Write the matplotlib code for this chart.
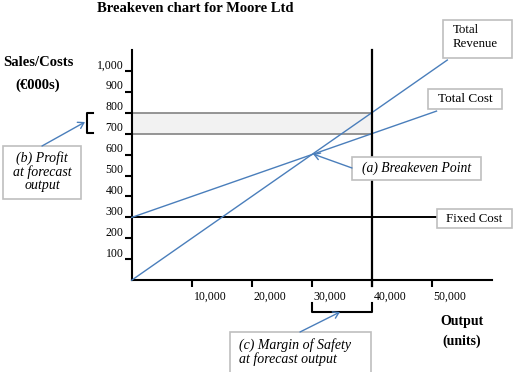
import matplotlib
matplotlib.use("Agg")
import matplotlib.pyplot as plt
from matplotlib.patches import Rectangle, FancyArrowPatch
from matplotlib.lines import Line2D
from matplotlib.transforms import ScaledTranslation

# ---- data (output in units, sales/costs in €000s) ----
revenue_x = [0, 52600]
revenue_y = [0, 1052]
cost_x = [0, 50800]
cost_y = [300, 808]
fixed_x = [0, 50700]
fixed_y = [300, 300]
forecast_output = 40000
breakeven_output = 30000
profit_band = [700, 800]
x_ticks = [10000, 20000, 30000, 40000, 50000]
x_ticklabels = ["10,000", "20,000", "30,000", "40,000", "50,000"]
y_ticks = [100, 200, 300, 400, 500, 600, 700, 800, 900, 1000]
y_ticklabels = ["100", "200", "300", "400", "500", "600", "700", "800", "900", "1,000"]

W, H = 523, 372
SERIF = ["Liberation Serif", "DejaVu Serif"]
BLUE = "#4a7ebb"
fig = plt.figure(figsize=(W / 100, H / 100), dpi=100)


def P(x, y):
    return (x / W, 1 - y / H)


ax = fig.add_axes([131.7 / W, 1 - 280.2 / H, 360 / W, 230.2 / H])
ax.set_xlim(0, 60000)
ax.set_ylim(0, 1100)
for s in ["top", "right"]:
    ax.spines[s].set_visible(False)
for s in ["left", "bottom"]:
    ax.spines[s].set_linewidth(1.5)
    ax.spines[s].set_color("black")
ax.tick_params(direction="out", length=5, width=1.5, colors="black")
ax.set_xticks(x_ticks)
ax.set_xticklabels(x_ticklabels, fontfamily=SERIF, fontsize=8.5, ha="left")
ax.set_yticks(y_ticks)
ax.set_yticklabels(y_ticklabels, fontfamily=SERIF, fontsize=8.5)
ax.tick_params(axis="x", pad=2.5)
ax.tick_params(axis="y", pad=1)
for lab in ax.get_yticklabels():
    lab.set_transform(lab.get_transform() + ScaledTranslation(0, 7 / 100, fig.dpi_scale_trans))
for lab in ax.get_xticklabels():
    lab.set_transform(lab.get_transform() + ScaledTranslation(2 / 100, 0, fig.dpi_scale_trans))

# profit band
ax.fill_between([0, forecast_output], profit_band[0], profit_band[1],
                facecolor="#f2f2f2", edgecolor="none", zorder=1)
for v in profit_band:
    ax.plot([0, forecast_output], [v, v], color="#8c8c8c", lw=1.3, zorder=2)

# lines
ax.plot(fixed_x, fixed_y, color="black", lw=1.4, zorder=3, clip_on=False)
ax.plot(revenue_x, revenue_y, color=BLUE, lw=1.0, zorder=4, clip_on=False)
ax.plot(cost_x, cost_y, color=BLUE, lw=1.0, zorder=4, clip_on=False)
ax.plot([forecast_output, forecast_output], [-28, 1100], color="black", lw=1.6,
        zorder=5, clip_on=False)

# margin of safety bracket below axis
ax.plot([breakeven_output, breakeven_output, forecast_output, forecast_output],
        [-110, -152, -152, -110], color="black", lw=1.5, clip_on=False)

# left bracket for profit
fig.add_artist(Line2D([93 / W, 87 / W, 87 / W, 93 / W],
                      [1 - 113 / H, 1 - 113 / H, 1 - 133 / H, 1 - 133 / H],
                      color="black", lw=1.5, transform=fig.transFigure))


def box(x0, y0, x1, y1):
    fig.add_artist(Rectangle(P(x0, y1), (x1 - x0) / W, (y1 - y0) / H,
                             transform=fig.transFigure, facecolor="white",
                             edgecolor="#bfbfbf", lw=1.2, zorder=6))


def txt(x, y, s, **kw):
    kw.setdefault("fontfamily", SERIF)
    kw.setdefault("fontsize", 9)
    kw.setdefault("va", "center")
    fig.text(*P(x, y), s, zorder=7, **kw)


def arrow(x0, y0, x1, y1):
    fig.add_artist(FancyArrowPatch(P(x0, y0), P(x1, y1), transform=fig.transFigure,
                                   arrowstyle="->,head_length=4,head_width=2.5",
                                   color=BLUE, lw=1.0, shrinkA=0, shrinkB=0, zorder=6))


# title and axis titles
txt(195, 8, "Breakeven chart for Moore Ltd", fontsize=10.5, fontweight="bold", ha="center")
txt(38, 63, "Sales/Costs", fontsize=10.5, fontweight="bold", ha="center")
txt(38, 85, "(€000s)", fontsize=10.5, fontweight="bold", ha="center")
txt(462, 322, "Output", fontsize=10, fontweight="bold", ha="center")
txt(462, 341, "(units)", fontsize=10, fontweight="bold", ha="center")

# label boxes
box(443, 20, 512, 58)
txt(453, 30, "Total", ha="left", fontsize=9.3)
txt(453, 44, "Revenue", ha="left", fontsize=9.3)
box(428, 89, 502, 109)
txt(465, 99, "Total Cost", ha="center", fontsize=9.5)
box(437, 209, 512, 228)
txt(474.5, 218.5, "Fixed Cost", ha="center", fontsize=9.3)

box(352, 157, 481, 180)
txt(416.5, 168.5, "(a) Breakeven Point", ha="center", style="italic", fontsize=9.8)
arrow(352, 168, 313, 154)

box(3, 146, 81, 199)
txt(42, 158, "(b) Profit", ha="center", style="italic", fontsize=10)
txt(42, 172, "at forecast", ha="center", style="italic", fontsize=10)
txt(42, 185, "output", ha="center", style="italic", fontsize=10)
arrow(42, 146, 85, 122)

box(230, 332, 371, 374)
txt(239, 345, "(c) Margin of Safety", ha="left", style="italic", fontsize=10)
txt(239, 359, "at forecast output", ha="left", style="italic", fontsize=10)
arrow(300, 332, 340, 312)

fig.savefig("out.png", dpi=100)
